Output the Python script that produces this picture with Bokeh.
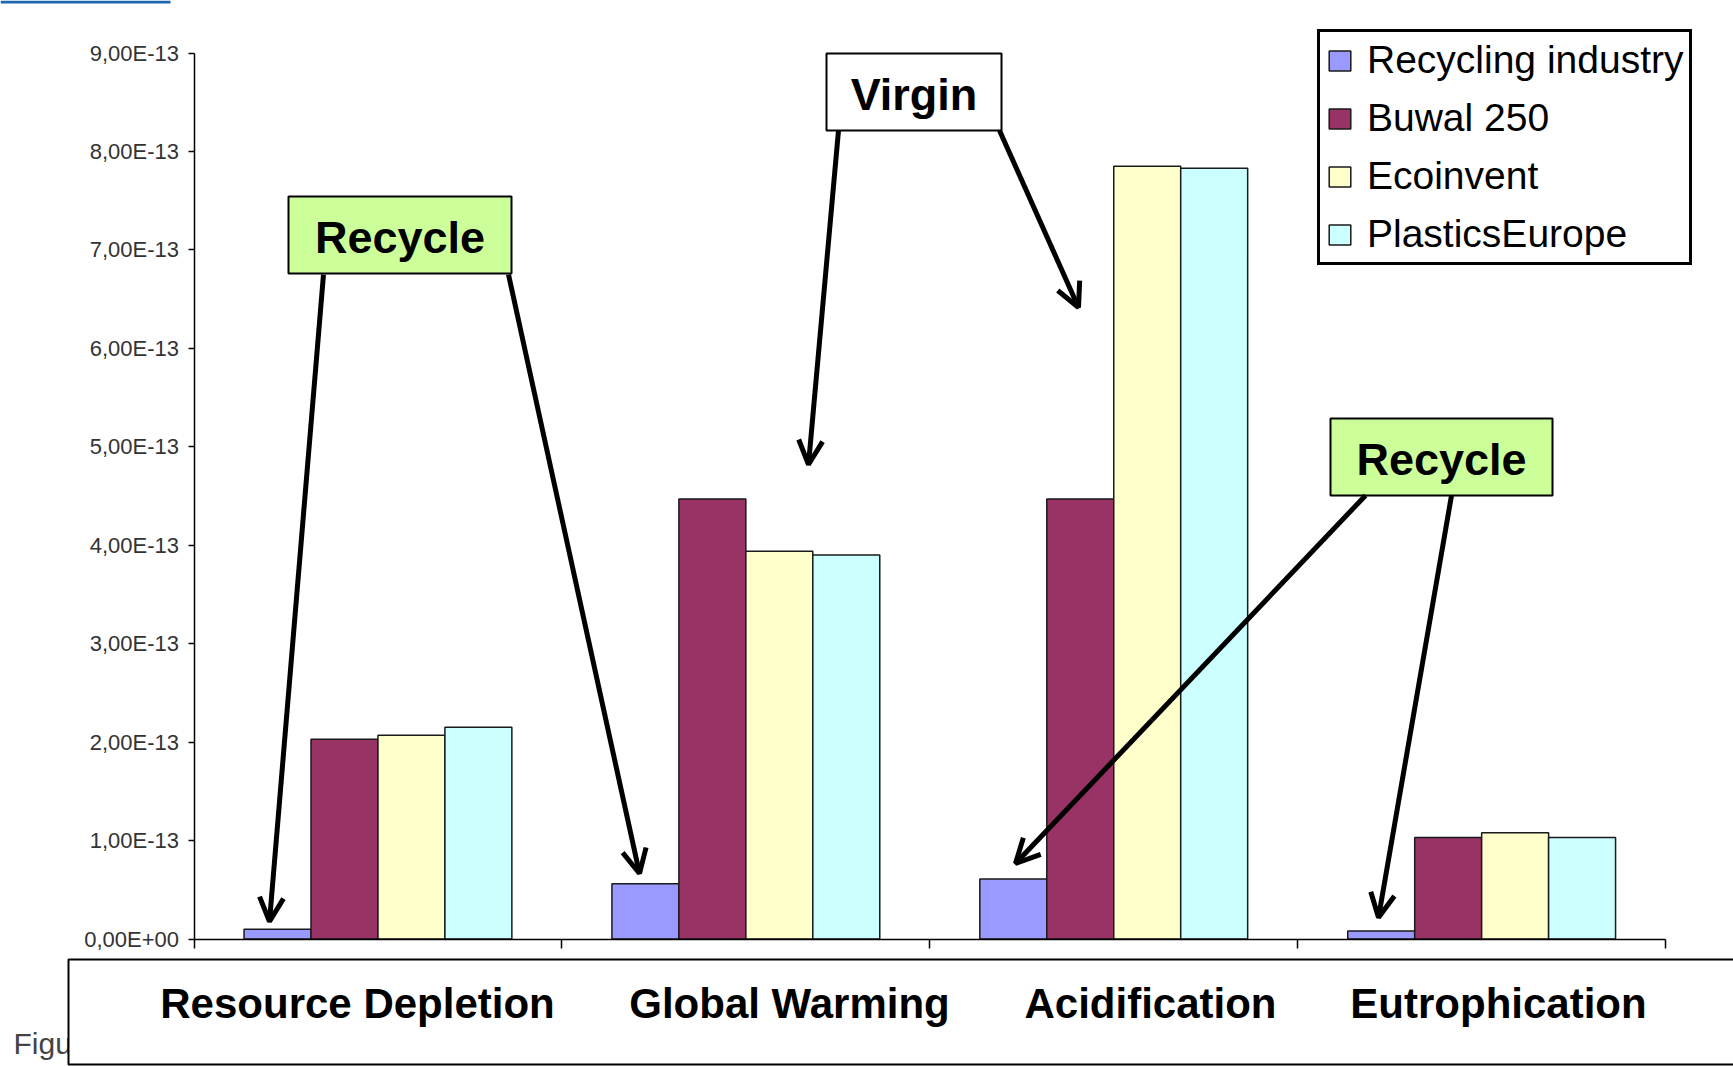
import numpy as np
from bokeh.plotting import figure
from bokeh.models import Range1d, FixedTicker, CustomJSTickFormatter, Arrow, OpenHead
from bokeh.core.properties import value
from bokeh.embed import file_html
from bokeh.resources import INLINE

# ---------------- data ----------------
categories = ["Resource Depletion", "Global Warming", "Acidification", "Eutrophication"]
series_names = ["Recycling industry", "Buwal 250", "Ecoinvent", "PlasticsEurope"]
recycling_industry = [0.10e-13, 0.56e-13, 0.61e-13, 0.08e-13]
buwal_250 = [2.03e-13, 4.47e-13, 4.47e-13, 1.03e-13]
ecoinvent = [2.07e-13, 3.94e-13, 7.85e-13, 1.08e-13]
plastics_europe = [2.15e-13, 3.90e-13, 7.83e-13, 1.03e-13]
y_ticks = [0.0, 1e-13, 2e-13, 3e-13, 4e-13, 5e-13, 6e-13, 7e-13, 8e-13, 9e-13]
callout_texts = ["Recycle", "Virgin", "Recycle"]

# ---------------- layout (pixels) ----------------
W, H = 1733, 1066
X0, PXX = 193.5, 367.9   # page px of x=0, px per category
Y0, PXY = 938.5, 98.44   # page px of y=0, px per 1e-13


def dx(px):
    return (px - X0) / PXX


def dy(py):
    return (Y0 - py) / PXY * 1e-13


colors = ["#9999FF", "#993366", "#FFFFCC", "#CCFFFF"]
offsets = [-0.273, -0.091, 0.091, 0.273]
bar_width = 0.182

p = figure(width=W, height=H, output_backend="svg", toolbar_location=None,
           x_range=Range1d(dx(0), dx(W)), y_range=Range1d(dy(H), dy(0)),
           min_border=0, min_border_left=0, min_border_right=0,
           min_border_top=0, min_border_bottom=0)
p.outline_line_color = None
p.background_fill_color = "white"
p.border_fill_color = "white"
p.xgrid.visible = False
p.ygrid.visible = False

# axes drawn at data locations inside the frame
p.yaxis.fixed_location = 0
p.yaxis.bounds = (0, 9e-13)
p.yaxis.ticker = FixedTicker(ticks=y_ticks, minor_ticks=[])
p.yaxis.formatter = CustomJSTickFormatter(code="""
    const s = tick.toExponential(2);
    const parts = s.split('e');
    let e = parts[1];
    const sign = e[0];
    let d = e.slice(1);
    if (d.length < 2) d = '0' + d;
    return parts[0].replace('.', ',') + 'E' + sign + d;
""")
p.yaxis.major_label_text_font = "Liberation Sans"
p.yaxis.major_label_text_font_size = "22px"
p.yaxis.major_label_text_color = "#333333"
p.yaxis.major_tick_out = 6
p.yaxis.major_tick_in = 0
p.yaxis.minor_tick_out = 0
p.yaxis.minor_tick_in = 0
p.yaxis.major_label_standoff = 9
p.yaxis.axis_line_width = 1.5
p.yaxis.major_tick_line_width = 1.5

p.xaxis.fixed_location = 0
p.xaxis.bounds = (0, 4)
p.xaxis.ticker = FixedTicker(ticks=[0, 1, 2, 3, 4], minor_ticks=[])
p.xaxis.formatter = CustomJSTickFormatter(code="return '';")
p.xaxis.major_tick_out = 9
p.xaxis.major_tick_in = 0
p.xaxis.minor_tick_out = 0
p.xaxis.minor_tick_in = 0
p.xaxis.axis_line_width = 1.5
p.xaxis.major_tick_line_width = 1.5

# ---------------- bars ----------------
xc = np.arange(len(categories)) + 0.5
for vals, name, col, off in zip([recycling_industry, buwal_250, ecoinvent, plastics_europe],
                                series_names, colors, offsets):
    p.vbar(x=xc + off, top=vals, bottom=0, width=bar_width,
           fill_color=col, line_color="#1a1a1a", line_width=1.5, legend_label=name)

leg = p.legend[0]
leg.location = (1317, 801)
leg.border_line_color = "black"
leg.border_line_alpha = 1
leg.border_line_width = 3
leg.background_fill_color = "white"
leg.background_fill_alpha = 1
leg.padding = 6
leg.margin = 0
leg.spacing = 14
leg.glyph_width = 27
leg.glyph_height = 25
leg.label_standoff = 14
leg.label_text_font = "Liberation Sans"
leg.label_text_font_size = "39px"
leg.label_text_color = "black"

# ---------------- thin blue bar at the top-left edge ----------------
p.quad(left=[dx(0)], right=[dx(170)], top=[dy(0)], bottom=[dy(3)],
       fill_color="#1f66b0", line_color=None)

# ---------------- "Figu..." text under the label box ----------------
p.text(x=[dx(13)], y=[dy(1043)], text=["Figure"], text_font=value("Liberation Sans"),
       text_font_size="30px", text_color="#444444", text_align="left",
       text_baseline="alphabetic")

# ---------------- category label box ----------------
p.quad(left=[dx(68)], right=[dx(1780)], top=[dy(959)], bottom=[dy(1064)],
       fill_color="white", line_color="black", line_width=2)
label_px = [357, 789, 1150, 1498]
p.text(x=[dx(v) for v in label_px], y=[dy(1003)] * len(categories), text=categories,
       text_font=value("Liberation Sans"), text_font_style="bold",
       text_font_size="42px", text_color="black",
       text_align="center", text_baseline="middle")

# ---------------- callout boxes ----------------
box_l = [288, 826, 1330]
box_r = [511, 1001, 1552]
box_t = [196, 53, 418]
box_b = [273, 130, 495]
box_fill = ["#CCFF99", "white", "#CCFF99"]
p.quad(left=[dx(v) for v in box_l], right=[dx(v) for v in box_r],
       top=[dy(v) for v in box_t], bottom=[dy(v) for v in box_b],
       fill_color=box_fill, line_color="black", line_width=2)
p.text(x=[dx((l + r) / 2) for l, r in zip(box_l, box_r)],
       y=[dy((t + b) / 2 + 2) for t, b in zip(box_t, box_b)],
       text=callout_texts, text_font=value("Liberation Sans"), text_font_style="bold",
       text_font_size="45px", text_color="black",
       text_align="center", text_baseline="middle")

# ---------------- arrows ----------------
arrows = [((323, 274), (269, 921)),
          ((508, 274), (639, 873)),
          ((838, 130), (808, 464)),
          ((999, 130), (1078, 307)),
          ((1365, 495), (1015, 863)),
          ((1451, 495), (1378, 917))]
for (sx, sy), (ex, ey) in arrows:
    p.add_layout(Arrow(x_start=dx(sx), y_start=dy(sy), x_end=dx(ex), y_end=dy(ey),
                       line_width=5, line_color="black",
                       end=OpenHead(size=24, line_width=5, line_color="black")))

open("out.html", "w").write(file_html(p, INLINE))
